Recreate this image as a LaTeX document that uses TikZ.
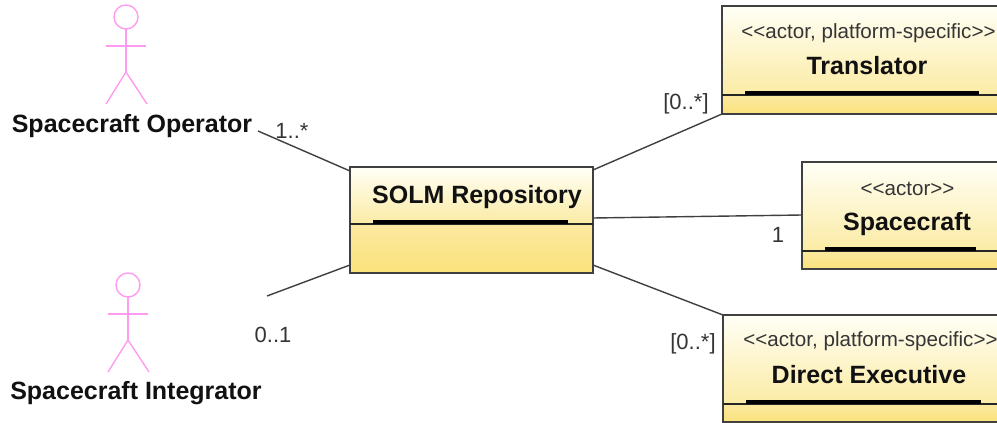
\documentclass[tikz,border=0pt]{standalone}
\usepackage{fontspec}
\setmainfont{Liberation Sans}
\usetikzlibrary{calc}
\definecolor{linec}{HTML}{404040}
\definecolor{actorc}{HTML}{FF9CF0}
\definecolor{yellowtop}{HTML}{FFFFF6}
\definecolor{yellowmid}{HTML}{FBEBA4}
\definecolor{yellowlow}{HTML}{FBE9A0}
\definecolor{yellowbot}{HTML}{FBE27C}
\definecolor{textc}{HTML}{111111}
\tikzset{
  umlbox/.style={rectangle,draw=linec,line width=1.6pt,inner sep=0pt,outer sep=0pt,anchor=north west},
  assoc/.style={draw=linec,line width=1.4pt},
  titletext/.style={font=\fontsize{25}{28}\selectfont\bfseries,text=textc,inner sep=0pt},
  actortext/.style={font=\fontsize{25}{28}\selectfont\bfseries,text=textc,inner sep=0pt},
  stereo/.style={font=\fontsize{20.6}{22}\selectfont,text=textc!85!white,inner sep=0pt},
  mult/.style={font=\fontsize{22}{24}\selectfont,text=textc!85!white,inner sep=0pt},
  actorline/.style={draw=actorc,line width=1.4pt},
  thickbar/.style={draw=black,line width=4pt},
  divider/.style={draw=black!85,line width=1.8pt}
}
% #1 name, #2 left, #3 top, #4 right, #5 bottom, #6 divider y, #7 bar left, #8 bar right
\newcommand{\umlclass}[8]{%
  \path[top color=yellowtop,bottom color=yellowmid] (#2,#3) rectangle (#4,#6);
  \path[top color=yellowlow,bottom color=yellowbot] (#2,#6) rectangle (#4,#5);
  \node[umlbox,minimum width=#4pt-#2pt,minimum height=#5pt-#3pt] (#1) at (#2,#3) {};
  \draw[divider] (#2,#6) -- (#4,#6);
  \draw[thickbar] (#7,#6-2.5) -- (#8,#6-2.5);
}
% #1 x of centre, #2 y of head centre
\newcommand{\stickman}[2]{%
  \draw[actorline] (#1,#2) circle (12);
  \draw[actorline] (#1,#2+12) -- (#1,#2+55);
  \draw[actorline] (#1-20,#2+29) -- (#1+20,#2+29);
  \draw[actorline] (#1-20,#2+87) -- (#1,#2+55) -- (#1+21,#2+87);
}
\newcommand{\opang}{{<}{<}}
\newcommand{\clang}{{>}{>}}
\begin{document}
\begin{tikzpicture}[x=1pt,y=-1pt]
\useasboundingbox (0,0) rectangle (997,423);
\clip (0,0) rectangle (997,423);
\fill[white] (0,0) rectangle (997,423);

\stickman{126}{17}
\stickman{128}{285}
\node[actortext] (opname) at (132,126) {Spacecraft Operator};
\node[actortext] (intname) at (136,393) {Spacecraft Integrator};

\umlclass{repo}{350}{167}{593}{273}{224}{373}{568}
\umlclass{trans}{722}{6}{1005}{114}{95}{745}{979}
\umlclass{craft}{802}{162}{1005}{269}{251}{825}{976}
\umlclass{exec}{723}{315}{1005}{422}{404}{746}{981}

\node[titletext] (repot) at (477,197) {SOLM Repository};
\node[stereo] (transs) at (868.5,33) {\opang actor, platform-specific\clang};
\node[titletext] (transt) at (867,66) {Translator};
\node[stereo] (crafts) at (907.5,189) {\opang actor\clang};
\node[titletext] (craftt) at (907,224) {Spacecraft};
\node[stereo] (execs) at (870.5,341) {\opang actor, platform-specific\clang};
\node[titletext] (exect) at (869,375) {Direct Executive};

\coordinate (opend) at (258,131);
\coordinate (intend) at (267,296);
\draw[assoc] (opend) -- ($(repo.north west)+(0,4)$);
\draw[assoc] (intend) -- ($(repo.south west)+(0,-8)$);
\draw[assoc] ($(repo.north east)+(0,3)$) -- (trans.south west);
\draw[assoc] ($(repo.north east)+(0,51)$) -- ($(craft.north west)+(0,53)$);
\draw[assoc] ($(repo.south east)+(0,-8)$) -- (exec.north west);

\node[mult] (m1) at (292,131) {1..*};
\node[mult] (m2) at (273,335) {0..1};
\node[mult] (m3) at (686,104) {[0..*]};
\node[mult] (m4) at (778,235) {1};
\node[mult] (m5) at (693,344) {[0..*]};
\end{tikzpicture}
\end{document}
